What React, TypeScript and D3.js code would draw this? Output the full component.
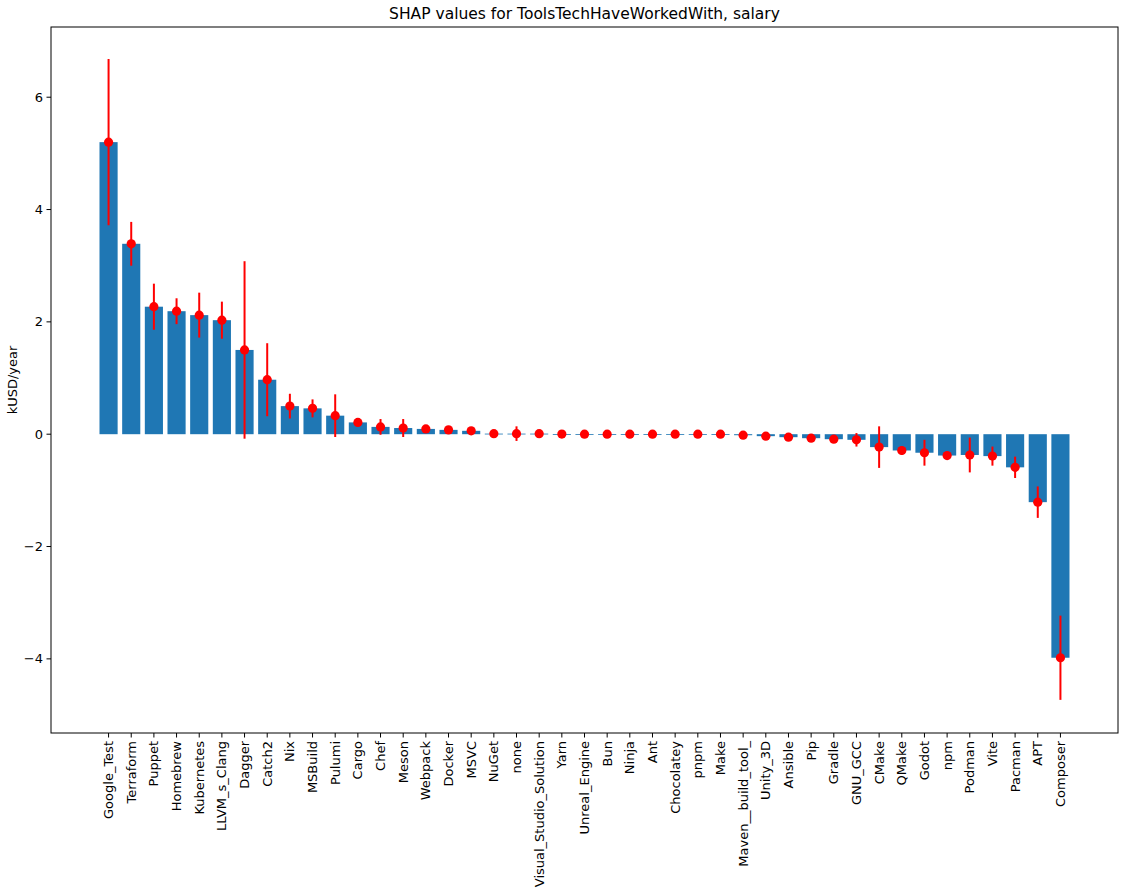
import React from 'react';
import * as d3 from 'd3';

const tools = [
  'Google_Test', 'Terraform', 'Puppet', 'Homebrew', 'Kubernetes', 'LLVM_s_Clang', 'Dagger',
  'Catch2', 'Nix', 'MSBuild', 'Pulumi', 'Cargo', 'Chef', 'Meson', 'Webpack', 'Docker', 'MSVC',
  'NuGet', 'none', 'Visual_Studio_Solution', 'Yarn', 'Unreal_Engine', 'Bun', 'Ninja', 'Ant',
  'Chocolatey', 'pnpm', 'Make', 'Maven__build_tool_', 'Unity_3D', 'Ansible', 'Pip', 'Gradle',
  'GNU_GCC', 'CMake', 'QMake', 'Godot', 'npm', 'Podman', 'Vite', 'Pacman', 'APT', 'Composer',
];

const shapValues = [
  5.2, 3.39, 2.27, 2.19, 2.12, 2.03, 1.5,
  0.97, 0.5, 0.46, 0.33, 0.21, 0.13, 0.11, 0.094, 0.077, 0.06,
  0.01, 0.01, 0.01, 0.003, 0.001, 0.001, 0.0, 0.0,
  0.0, 0.0, 0.0, -0.018, -0.035, -0.053, -0.071, -0.089,
  -0.1, -0.23, -0.29, -0.33, -0.38, -0.37, -0.39, -0.59, -1.21, -3.98,
];

const shapErrors = [
  1.48, 0.39, 0.41, 0.23, 0.4, 0.33, 1.58,
  0.65, 0.22, 0.16, 0.38, 0.07, 0.14, 0.16, 0.02, 0.02, 0.02,
  0.02, 0.13, 0.02, 0.01, 0.01, 0.01, 0.01, 0.01,
  0.01, 0.01, 0.01, 0.01, 0.01, 0.01, 0.01, 0.01,
  0.12, 0.37, 0.08, 0.23, 0.03, 0.31, 0.17, 0.19, 0.28, 0.75,
];

const yTicks = [-4, -2, 0, 2, 4, 6];

const W = 1134;
const H = 896;
const margin = { top: 27, right: 16, bottom: 163, left: 51 };
const font = 'DejaVu Sans, sans-serif';

export default function App() {
  const innerW = W - margin.left - margin.right;
  const innerH = H - margin.top - margin.bottom;
  const barW = 0.8;
  const span = tools.length - 1 + barW;
  const pad = span * 0.05;

  const x = d3
    .scaleLinear()
    .domain([-barW / 2 - pad, tools.length - 1 + barW / 2 + pad])
    .range([0, innerW]);

  const y = d3.scaleLinear().domain([-5.32, 7.25]).range([innerH, 0]);

  const bw = x(barW) - x(0);

  return (
    <svg
      width={W}
      height={H}
      style={{ position: 'absolute', left: 0, top: 0, background: '#fff' }}
      fontFamily={font}
    >
      <rect width={W} height={H} fill="#fff" />
      <g transform={`translate(${margin.left},${margin.top})`}>
        {/* bars */}
        {shapValues.map((v, i) => (
          <rect
            key={tools[i]}
            x={x(i) - bw / 2}
            y={Math.min(y(v), y(0))}
            width={bw}
            height={Math.max(Math.abs(y(v) - y(0)), 0.8)}
            fill="#1f77b4"
          />
        ))}
        {/* error bars */}
        {shapValues.map((v, i) => (
          <g key={`e-${tools[i]}`}>
            <line
              x1={x(i)}
              x2={x(i)}
              y1={y(v + shapErrors[i])}
              y2={y(v - shapErrors[i])}
              stroke="red"
              strokeWidth={2}
            />
            <circle cx={x(i)} cy={y(v)} r={4.6} fill="red" />
          </g>
        ))}

        {/* frame */}
        <rect
          x={0}
          y={0}
          width={innerW}
          height={innerH}
          fill="none"
          stroke="#000"
          strokeWidth={1}
        />

        {/* y axis */}
        {yTicks.map((t) => (
          <g key={t} transform={`translate(0,${y(t)})`}>
            <line x1={-4.5} x2={0} stroke="#000" strokeWidth={1} />
            <text
              x={-8}
              dy="0.35em"
              textAnchor="end"
              fontSize={13}
              fill="#000"
            >
              {d3.format('d')(t)}
            </text>
          </g>
        ))}

        {/* x axis */}
        {tools.map((t, i) => (
          <g key={t} transform={`translate(${x(i)},${innerH})`}>
            <line y1={0} y2={4.5} stroke="#000" strokeWidth={1} />
            <text
              transform="translate(0,8) rotate(-90)"
              dy="0.35em"
              textAnchor="end"
              fontSize={13}
              fill="#000"
            >
              {t}
            </text>
          </g>
        ))}

        <text
          transform={`translate(-34,${innerH / 2}) rotate(-90)`}
          textAnchor="middle"
          fontSize={13}
          fill="#000"
        >
          kUSD/year
        </text>

        <text
          x={innerW / 2}
          y={-8}
          textAnchor="middle"
          fontSize={15.5}
          fill="#000"
        >
          SHAP values for ToolsTechHaveWorkedWith, salary
        </text>
      </g>
    </svg>
  );
}
